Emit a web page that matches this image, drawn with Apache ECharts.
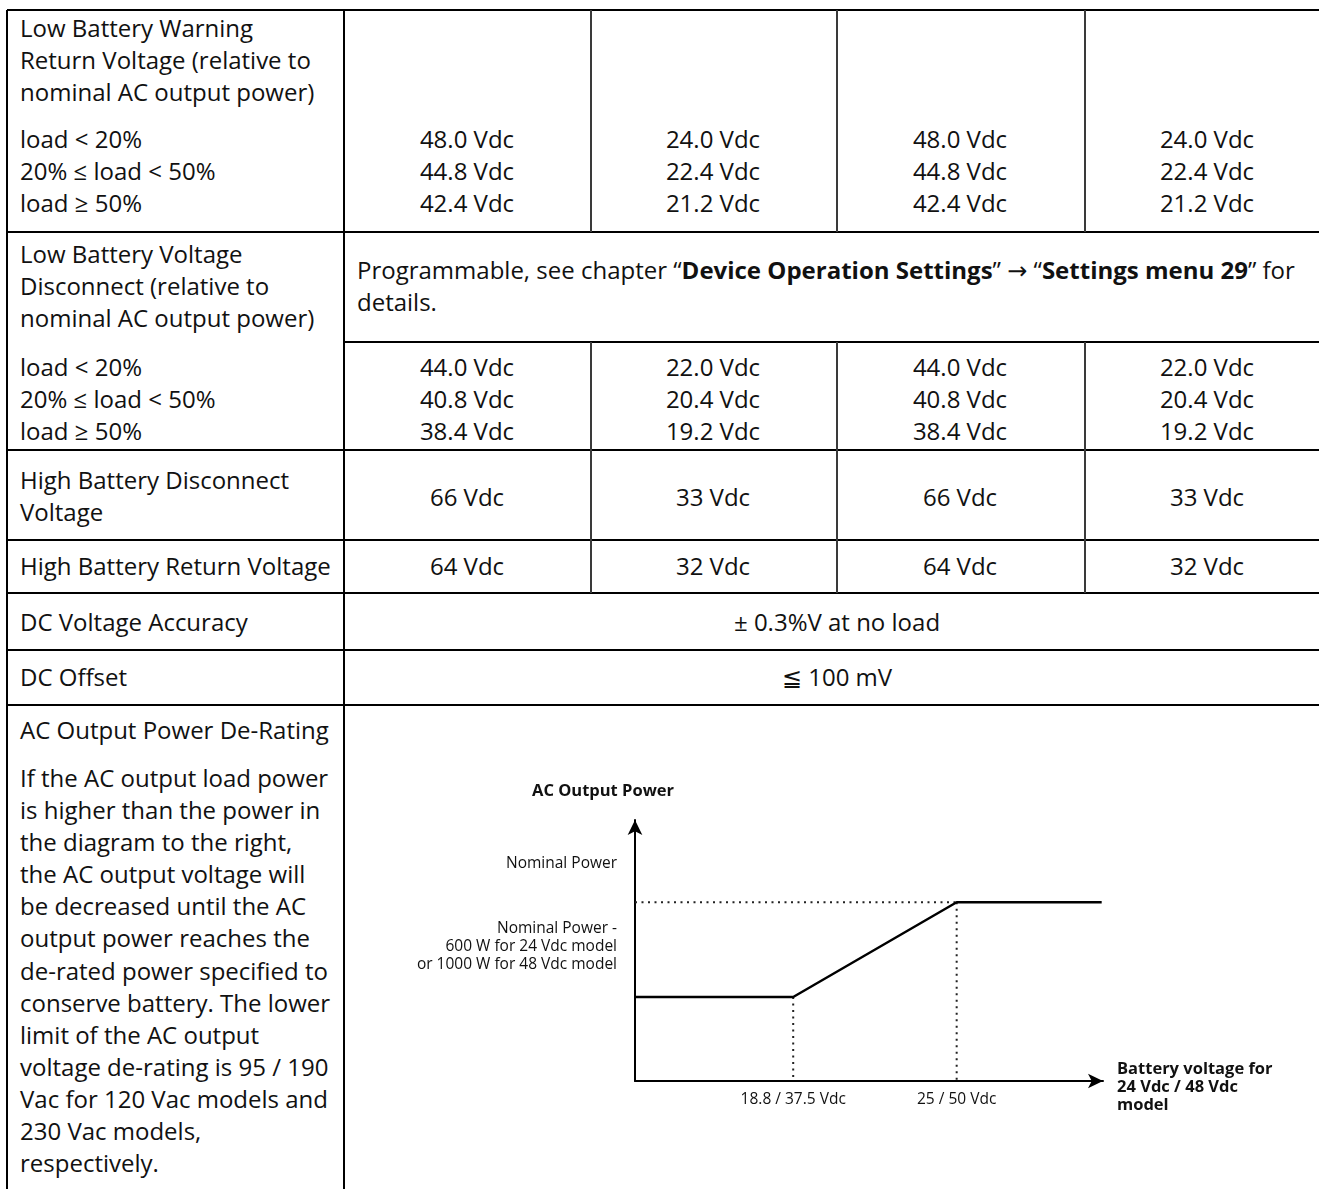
<!DOCTYPE html>
<html>
<head>
<meta charset="utf-8">
<script src="https://cdn.jsdelivr.net/npm/echarts@6/dist/echarts.min.js"></script>
<style>
  body { margin: 0; background: #fff; width: 1319px; height: 1189px; overflow: hidden; position: relative;
         font-family: "Open Sans", "DejaVu Sans", sans-serif; font-size: 24px; color: #111; }
  .t { position: absolute; white-space: nowrap; line-height: 32px; }
  .ln { position: absolute; background: #000; }
  .thin { position: absolute; background: #3a3a3a; }
  #chart { position: absolute; left: 346px; top: 707px; width: 973px; height: 482px; }
</style>
</head>
<body>
<div id="chart"></div>
<script>
// ---- table text ----
const loadLabels = ['load &lt; 20%', '20% ≤ load &lt; 50%', 'load ≥ 50%'];
const warnReturnTitle = ['Low Battery Warning', 'Return Voltage (relative to', 'nominal AC output power)'];
const warnReturn = [
  ['48.0 Vdc', '44.8 Vdc', '42.4 Vdc'],
  ['24.0 Vdc', '22.4 Vdc', '21.2 Vdc'],
  ['48.0 Vdc', '44.8 Vdc', '42.4 Vdc'],
  ['24.0 Vdc', '22.4 Vdc', '21.2 Vdc']
];
const disconnectTitle = ['Low Battery Voltage', 'Disconnect (relative to', 'nominal AC output power)'];
const disconnectNote = [
  'Programmable, see chapter “<b>Device Operation Settings</b>” → “<b>Settings menu 29</b>” for',
  'details.'
];
const disconnect = [
  ['44.0 Vdc', '40.8 Vdc', '38.4 Vdc'],
  ['22.0 Vdc', '20.4 Vdc', '19.2 Vdc'],
  ['44.0 Vdc', '40.8 Vdc', '38.4 Vdc'],
  ['22.0 Vdc', '20.4 Vdc', '19.2 Vdc']
];
const highDisconnect = ['66 Vdc', '33 Vdc', '66 Vdc', '33 Vdc'];
const highReturn = ['64 Vdc', '32 Vdc', '64 Vdc', '32 Vdc'];
const dcAccuracy = '± 0.3%V at no load';
const dcOffset = '≦ 100 mV';
const deratingText = [
  'If the AC output load power',
  'is higher than the power in',
  'the diagram to the right,',
  'the AC output voltage will',
  'be decreased until the AC',
  'output power reaches the',
  'de-rated power specified to',
  'conserve battery. The lower',
  'limit of the AC output',
  'voltage de-rating is 95 / 190',
  'Vac for 120 Vac models and',
  '230 Vac models,',
  'respectively.'
];

// ---- derating diagram (x on the 24 Vdc scale, y in % of nominal power) ----
const xRange = [12.8, 30.55];
const yRange = [0, 146];
const derateVoltage = [12.8, 18.8, 25, 30.5];
const deratePower = [47, 47, 100, 100];
const xTickValues = [18.8, 25];
const xTickLabels = ['18.8 / 37.5 Vdc', '25 / 50 Vdc'];
const yTickValues = [100, 47];
const yTickLabels = ['Nominal Power', 'Nominal Power -\n600 W for 24 Vdc model\nor 1000 W for 48 Vdc model'];
const xAxisTitle = ['Battery voltage for', '24 Vdc / 48 Vdc', 'model'];

// column edges of the table
const colX = [7, 344, 590, 836, 1084, 1330];

function put(left, yc, width, align, lines, lh) {
  lh = lh || 32;
  const d = document.createElement('div');
  d.className = 't';
  d.style.left = left + 'px';
  d.style.top = (yc - lh / 2) + 'px';
  d.style.lineHeight = lh + 'px';
  if (width) d.style.width = width + 'px';
  d.style.textAlign = align;
  d.innerHTML = lines.join('<br>');
  document.body.appendChild(d);
}

function line(cls, x, y, w, h) {
  const d = document.createElement('div');
  d.className = cls;
  d.style.left = x + 'px';
  d.style.top = y + 'px';
  d.style.width = w + 'px';
  d.style.height = h + 'px';
  document.body.appendChild(d);
}

function valueCols(yc, cols) {
  cols.forEach((vals, i) => {
    put(colX[i + 1], yc, colX[i + 2] - colX[i + 1], 'center', Array.isArray(vals) ? vals : [vals]);
  });
}

// borders
[10, 232, 450, 540, 593, 650, 705].forEach(y => line('ln', colX[0], y - 1, colX[5] - colX[0], 2));
line('ln', colX[1], 341, colX[5] - colX[1], 2);
line('ln', colX[0] - 1, 10, 2, 1189);
line('ln', colX[1] - 1, 10, 2, 1189);
[colX[2], colX[3], colX[4]].forEach(x => {
  line('thin', x, 10, 1.5, 222);
  line('thin', x, 342, 1.5, 251);
});

// rows
put(20, 28, 0, 'left', warnReturnTitle);
put(20, 139, 0, 'left', loadLabels);
valueCols(139, warnReturn);

put(20, 254, 0, 'left', disconnectTitle);
put(357, 270, 0, 'left', disconnectNote);
put(20, 367, 0, 'left', loadLabels);
valueCols(367, disconnect);

put(20, 480, 0, 'left', ['High Battery Disconnect', 'Voltage']);
valueCols(497, highDisconnect);

put(20, 566, 0, 'left', ['High Battery Return Voltage']);
valueCols(566, highReturn);

put(20, 622, 0, 'left', ['DC Voltage Accuracy']);
put(colX[1], 622, colX[5] - colX[1], 'center', [dcAccuracy]);

put(20, 677, 0, 'left', ['DC Offset']);
put(colX[1], 677, colX[5] - colX[1], 'center', [dcOffset]);

put(20, 730, 0, 'left', ['AC Output Power De-Rating']);
put(20, 778, 0, 'left', deratingText, 32.1);

// chart
const chart = echarts.init(document.getElementById('chart'), null, { renderer: 'canvas' });
const FONT = '"Open Sans", "DejaVu Sans", sans-serif';
const dotted = { color: '#222', width: 2, type: [2, 4.5] };
const labelStyle = { fontFamily: FONT, fontSize: 15.5, color: '#111', lineHeight: 18 };
const boldStyle = { fontFamily: FONT, fontWeight: 'bold', fontSize: 16.5, color: '#111', lineHeight: 18 };

const curve = derateVoltage.map((x, i) => [x, deratePower[i]]);
const nominalGuide = [[xRange[0], deratePower[2]], [derateVoltage[2], deratePower[2]]];
const kneeGuide = [[derateVoltage[1], deratePower[1]], [derateVoltage[1], yRange[0]]];
const fullGuide = [[derateVoltage[2], deratePower[2]], [derateVoltage[2], yRange[0]]];

chart.setOption({
  animation: false,
  grid: { left: 289, top: 113, right: 216, bottom: 108, outerBoundsMode: 'none' },
  xAxis: {
    type: 'value',
    min: xRange[0],
    max: xRange[1],
    // leading spacer line pushes the block a little below the axis
    name: '{s| }\n' + xAxisTitle.map(t => '{b|' + t + '}').join('\n'),
    nameLocation: 'end',
    nameGap: 14,
    nameTextStyle: {
      align: 'left', verticalAlign: 'middle',
      rich: { b: boldStyle, s: { fontSize: 8, lineHeight: 12 } }
    },
    axisLine: { show: true, onZero: false, symbol: ['none', 'arrow'], symbolSize: [11, 15],
                lineStyle: { color: '#000', width: 2 } },
    axisTick: { show: false },
    splitLine: { show: false },
    axisLabel: {
      customValues: xTickValues,
      formatter: v => xTickLabels[xTickValues.indexOf(v)],
      fontFamily: FONT, fontSize: 15.5, color: '#111', margin: 11
    }
  },
  yAxis: {
    type: 'value',
    min: yRange[0],
    max: yRange[1],
    name: 'AC Output Power',
    nameLocation: 'end',
    nameGap: 20,
    nameTextStyle: { fontFamily: FONT, fontWeight: 'bold', fontSize: 16.5, color: '#111',
                     align: 'center', verticalAlign: 'bottom', padding: [0, 64, 0, 0] },
    axisLine: { show: true, onZero: false, symbol: ['none', 'arrow'], symbolSize: [11, 15],
                lineStyle: { color: '#000', width: 2 } },
    axisTick: { show: false },
    splitLine: { show: false },
    axisLabel: {
      customValues: yTickValues,
      margin: 18,
      verticalAlign: 'bottom',
      formatter: v => {
        const parts = yTickLabels[yTickValues.indexOf(v)].split('\n');
        const gap = parts.length > 1 ? '{gm| }' : '{gs| }';
        return parts.map(p => '{r|' + p + '}').join('\n') + '\n' + gap;
      },
      rich: {
        r: labelStyle,
        gs: { fontSize: 10, lineHeight: 30 },
        gm: { fontSize: 10, lineHeight: 23 }
      }
    }
  },
  series: [
    { type: 'line', data: nominalGuide, symbol: 'none', lineStyle: dotted, z: 1 },
    { type: 'line', data: kneeGuide, symbol: 'none', lineStyle: dotted, z: 1 },
    { type: 'line', data: fullGuide, symbol: 'none', lineStyle: dotted, z: 1 },
    { type: 'line', data: curve, symbol: 'none', lineStyle: { color: '#000', width: 2.5 }, z: 3 }
  ]
});
</script>
</body>
</html>
